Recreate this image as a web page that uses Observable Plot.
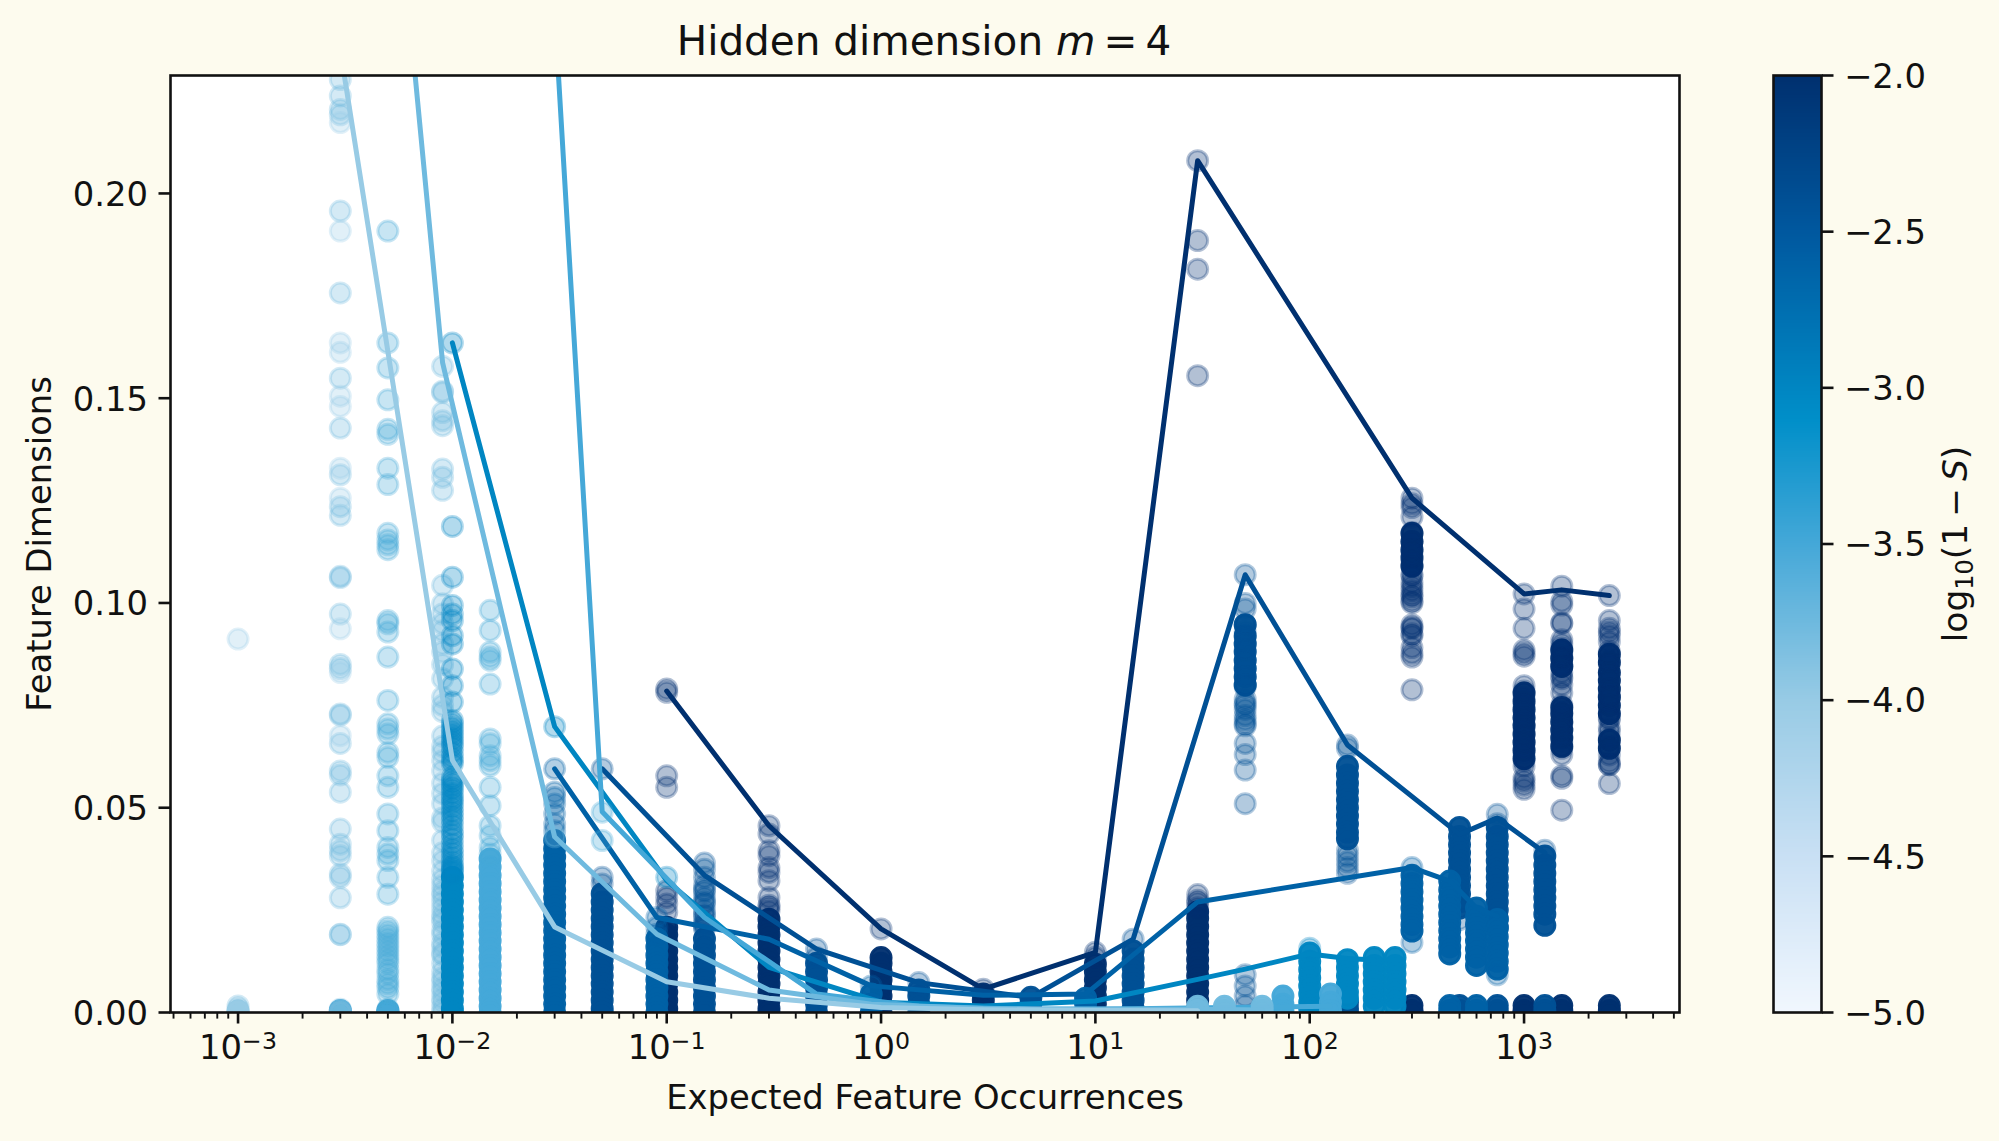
<!DOCTYPE html>
<html><head><meta charset="utf-8">
<script src="https://cdn.jsdelivr.net/npm/d3@7"></script>
<script src="https://cdn.jsdelivr.net/npm/@observablehq/plot@0.6"></script>
<style>
html,body{margin:0;padding:0;background:#fdfbee;width:1999px;height:1141px;overflow:hidden;font-family:"DejaVu Sans",sans-serif;color:#111}
#main,#bar{position:absolute;left:0;top:0}
#title{position:absolute;left:524px;width:800px;top:18px;text-align:center;font-size:40.5px;line-height:46px;white-space:nowrap}
#cblabel{position:absolute;left:1955px;top:544px;font-size:34.5px;white-space:nowrap;transform:translate(-50%,-50%) rotate(-90deg)}
#cblabel sub{font-size:24px;vertical-align:-6px;line-height:0}
svg text{font-family:"DejaVu Sans",sans-serif}
</style></head><body>
<div id="main"></div><div id="bar"></div>
<div id="title">Hidden dimension <i>m</i>&#8201;=&#8201;4</div>
<div id="cblabel">log<sub>10</sub>(1&#8201;−&#8201;<i>S</i>)</div>
<script>
// colour ramp
const rampStops = [-5,-4.5,-4,-3.5,-3.1,-2.5,-2];
const rampColors = ["#f1f7fe","#c9e0f4","#98cbe5","#45a8d8","#008fc9","#00589f","#00306f"];

// axis
const xDomain = [4.84e-4,5312];
const yDomain = [0,0.2288];
const xMajor = [1e-3,1e-2,1e-1,1,1e1,1e2,1e3];
const xMajorBase = ["10","10","10","10","10","10","10"];
const xMajorExp = ["−3","−2","−1","0","1","2","3"];
const xMinorDecades = [1e-4,1e-3,1e-2,1e-1,1,1e1,1e2,1e3];
const xMinorMults = [2,3,4,5,6,7,8,9];
const yTicks = [0,0.05,0.10,0.15,0.20];
const cbTicks = [-5,-4.5,-4,-3.5,-3,-2.5,-2];

// series: log10(1-S) values, darkest first
const seriesC = [-2,-2.4,-2.6,-3,-3.5,-3.75,-4,-4.05];

// lines
const lineX = [
 [0.1,0.3,1,3,10,30,300,1000,1500,2500],
 [0.05,0.15,0.5,1.5,5,15,50,150,500,750,1250],
 [0.03,0.09,0.3,0.9,3,9,30,300,450,600,750],
 [0.01,0.03,0.1,0.3,1,3,10,30,50,100,150,200],
 [0.015,0.05,0.15,0.5,1.5,5,15,50,125],
 [0.003,0.009,0.03,0.09,0.3,0.9,3,9,30,60],
 [0.003,0.01,0.03,0.1,0.3,1,3,10,30],
 []
];
const lineY = [
 [0.0785,0.0456,0.0204,0.0057,0.0147,0.208,0.1256,0.1022,0.1032,0.1018],
 [0.0595,0.0335,0.0155,0.0073,0.0037,0.0179,0.1069,0.0653,0.0435,0.0475,0.039],
 [0.0595,0.0232,0.0179,0.0065,0.0042,0.0045,0.027,0.0354,0.0321,0.0255,0.0235],
 [0.1635,0.0698,0.0322,0.011,0.0025,0.0016,0.0028,0.0081,0.0106,0.0143,0.0132,0.0128],
 [0.51,0.049,0.0232,0.0045,0.0015,0.0008,0.0009,0.0013,0.0015],
 [0.42,0.1587,0.0429,0.0191,0.0055,0.002,0.001,0.0008,0.0008,0.0006],
 [0.235,0.0616,0.0209,0.0075,0.0035,0.0012,0.0007,0.0005,0.0004],
 []
];

// the x = 0.009 dots sit behind the x = 0.01 column
const backX = 0.009;
const backC = -3.75;
const backY = [0.1578,0.1517,0.1514,0.1465,0.1445,0.1433,0.1327,0.1307,0.1275,0.1043,0.0998,0.0973,0.095,0.0932,0.09,0.088,0.085,0.0815,0.077,0.075,0.0735,0.0675,0.065,0.0635,0.0615,0.059,0.056,0.0535,0.051,0.0475,0.0465,0.042,0.039,0.037,0.0295,0.027,0.024,0.022,0.019,0.017,0.0145,0.014,0.01,0.0075,0.005,0.0025,0,0.0345,0.0325,0.031,0.0285,0.0255,0.023,0.02,0.016,0.012,0.0085,0.006,0.0035,0.001];

// scattered translucent dots: [series index, x, values]
const sparse = [
 [0,0.1,[0.079,0.0782,0.0578,0.055,0.0297,0.0281,0.0265,0.0245]],
 [0,0.3,[0.0456,0.0436,0.0395,0.0383,0.0354,0.0342,0.0322,0.0281,0.0257,0.0262,0.0248]],
 [0,1,[0.0204]],
 [0,3,[0.0057]],
 [0,10,[0.0147,0.0135]],
 [0,30,[0.208,0.1885,0.1815,0.1555,0.0288,0.0274,0.0268,0.0256]],
 [0,300,[0.1256,0.1242,0.1233,0.121,0.1172,0.115,0.113,0.112,0.11,0.1088,0.107,0.105,0.103,0.1015,0.1,0.0947,0.0938,0.0891,0.0877,0.0868,0.0788,0.1065,0.104,0.102,0.1005,0.092,0.094,0.0925]],
 [0,1000,[0.1022,0.0985,0.0938,0.0877,0.0798,0.0785,0.077,0.075,0.0735,0.072,0.0705,0.069,0.0675,0.066,0.0645,0.063,0.0615,0.0601,0.0573,0.0545,0.0885,0.087,0.0565,0.0555]],
 [0,1500,[0.1041,0.1004,0.0995,0.0952,0.095,0.09,0.088,0.0865,0.085,0.083,0.082,0.078,0.08,0.0751,0.0735,0.072,0.0705,0.069,0.0675,0.066,0.0645,0.063,0.0578,0.0572,0.0494,0.091,0.089,0.087,0.0845,0.0815]],
 [0,2500,[0.1018,0.0957,0.0938,0.0929,0.092,0.0905,0.0882,0.0865,0.085,0.083,0.0815,0.079,0.0751,0.0732,0.0686,0.067,0.065,0.0629,0.0559,0.077,0.0775,0.0715,0.0695,0.072,0.0605,0.0612,0.0605]],
 [1,0.05,[0.0595,0.033,0.0314]],
 [1,0.15,[0.0365,0.035,0.033,0.031,0.03,0.028,0.027,0.025,0.024,0.022,0.021,0.0295,0.0265,0.0235,0.0215,0.0205]],
 [1,0.5,[0.0155,0.0134]],
 [1,1.5,[0.0073]],
 [1,15,[0.0179]],
 [1,50,[0.1069,0.0999,0.0985,0.0947,0.093,0.0915,0.09,0.0885,0.086,0.084,0.082,0.08,0.0795,0.0765,0.075,0.0714,0.07,0.0657,0.063,0.0592,0.051,0.0092,0.0065,0.004,0.0017,0.0755,0.074,0.0725,0.0705]],
 [1,150,[0.0653,0.0645,0.0396,0.0382,0.0368,0.0354,0.034]],
 [1,500,[0.0227]],
 [1,750,[0.0484,0.0461]],
 [1,1250,[0.0396]],
 [2,0.03,[0.0595,0.0538,0.0525,0.0509,0.0485,0.046,0.0444]],
 [2,0.09,[0.0232,0.0208,0.0191]],
 [2,0.9,[0.0065]],
 [2,300,[0.0354,0.0171]],
 [2,750,[0.0092]],
 [3,0.01,[0.1635,0.1187,0.1063,0.0994,0.0973,0.0957,0.092,0.09,0.0839,0.0798,0.0758,0.0713,0.0696,0.068,0.0664,0.0648,0.0623,0.0607,0.0574,0.056,0.0545,0.0525,0.051,0.049,0.047,0.0445,0.0425,0.04,0.038,0.0705,0.0688,0.0672,0.0656,0.0635,0.0615,0.0567,0.0552,0.0535,0.0518,0.05,0.048,0.0458,0.0435,0.0412,0.039,0.037,0.036,0.0355,0.035,0.0345,0.034]],
 [3,0.03,[0.0698]],
 [3,0.1,[0.033]],
 [3,100,[0.0157]],
 [4,0.015,[0.0982,0.0933,0.088,0.0868,0.086,0.0802,0.0668,0.0656,0.0627,0.0615,0.0603,0.055,0.0505,0.0456,0.0432,0.0403,0.0387]],
 [4,0.05,[0.0489,0.042]],
 [4,0.005,[0.1908,0.1635,0.1574,0.1496,0.1424,0.1412,0.1329,0.1289,0.117,0.1154,0.1142,0.113,0.0957,0.0949,0.0929,0.0868,0.0762,0.0705,0.0692,0.068,0.0635,0.0623,0.0578,0.055,0.0485,0.0444,0.0403,0.0387,0.0371,0.033,0.0289,0.0208,0.0199,0.019,0.018,0.017,0.016,0.015,0.014,0.013,0.012,0.0105,0.0095,0.008,0.007,0.006,0.0045,0.0008,0.0004,0,0,0,0,0]],
 [5,0.03,[0.0429]],
 [5,0.001,[0.0016,0.0008,0.0004,0,0]],
 [5,0.003,[0.2278,0.2238,0.2205,0.2192,0.1957,0.1757,0.1549,0.1427,0.1313,0.1235,0.1214,0.1065,0.1062,0.0973,0.085,0.084,0.0729,0.0726,0.0657,0.059,0.058,0.0538,0.0448,0.0411,0.0395,0.0383,0.0338,0.033,0.028,0.0191,0.019,0.0008,0.0004,0,0,0,0]],
 [7,0.001,[0.0912]],
 [7,0.003,[0.2173,0.1908,0.1635,0.1612,0.1505,0.148,0.1329,0.1256,0.0937,0.083,0.0676]]
];

// columns so crowded that they read as solid: [series index, x, values]
const solid = [
 [0,0.1,[0.0208,0.019,0.017,0.015,0.013,0.011,0.009,0.007,0.005,0.003,0.001,0]],
 [0,0.3,[0.0228,0.021,0.019,0.017,0.015,0.013,0.011,0.009,0.007,0.005,0.003,0.001,0]],
 [0,1,[0.0134,0.012,0.01,0.008,0.006,0.004,0.002,0]],
 [0,3,[0.0045,0.003,0.0015,0]],
 [0,10,[0.0118,0.01,0.008,0.006,0.004,0.002,0]],
 [0,30,[0.0246,0.023,0.021,0.019,0.017,0.015,0.013,0.011,0.009,0.007,0.005,0.003,0.001,0]],
 [0,300,[0.0017,0.0005,0]],
 [0,1000,[0.0017,0.0005,0,0.078,0.076,0.074,0.072,0.07,0.068,0.066,0.064,0.062]],
 [0,1500,[0.0017,0.0005,0,0.0745,0.073,0.071,0.069,0.067,0.065,0.0885,0.0865,0.0845]],
 [0,2500,[0.0017,0.0005,0,0.0875,0.0855,0.083,0.081,0.079,0.077,0.075,0.073,0.0665,0.0645]],
 [0,300,[0.117,0.115,0.113,0.111,0.109]],
 [1,0.05,[0.029,0.027,0.025,0.023,0.021,0.019,0.017,0.015,0.013,0.011,0.009,0.007,0.005,0.003,0.001,0]],
 [1,0.15,[0.018,0.016,0.014,0.012,0.01,0.008,0.006,0.004,0.002,0]],
 [1,0.5,[0.012,0.01,0.008,0.006,0.004,0.002,0]],
 [1,1.5,[0.0055,0.004,0.002,0]],
 [1,5,[0.0037,0.002,0]],
 [1,15,[0.015,0.013,0.011,0.009,0.007,0.005,0.003,0.001,0]],
 [1,50,[0.0947,0.092,0.09,0.088,0.086,0.084,0.082,0.08]],
 [1,150,[0.0601,0.058,0.056,0.054,0.052,0.05,0.048,0.046,0.044,0.0424]],
 [1,500,[0.0452,0.043,0.041,0.039,0.037,0.035,0.033,0.031,0.029,0.027,0.0255,0.0017,0.0005]],
 [1,750,[0.0452,0.043,0.041,0.039,0.037,0.035,0.033,0.031,0.029,0.027,0.025,0.023,0.0209,0.0017,0.0005]],
 [1,1250,[0.0382,0.036,0.034,0.032,0.03,0.028,0.026,0.024,0.0213,0.0017,0.0005]],
 [2,0.03,[0.042,0.04,0.038,0.036,0.034,0.032,0.03,0.028,0.026,0.024,0.022,0.02,0.018,0.016,0.014,0.012,0.01,0.008,0.006,0.004,0.002,0]],
 [2,0.09,[0.018,0.016,0.014,0.012,0.01,0.008,0.006,0.004,0.002,0]],
 [2,0.9,[0.0045,0.002,0]],
 [2,9,[0.0035,0.002,0]],
 [2,300,[0.0335,0.0315,0.0295,0.0275,0.0255,0.0235,0.0215,0.0199]],
 [2,450,[0.0321,0.03,0.028,0.026,0.024,0.022,0.02,0.018,0.016,0.0143,0.0017,0.0005]],
 [2,600,[0.0255,0.0235,0.0215,0.0195,0.0175,0.0155,0.0135,0.0115,0.0017,0.0005]],
 [2,750,[0.0227,0.0205,0.0185,0.0165,0.0145,0.0125,0.0106]],
 [3,0.01,[0.033,0.031,0.029,0.027,0.025,0.023,0.021,0.019,0.017,0.015,0.013,0.011,0.009,0.007,0.005,0.003,0.001,0]],
 [3,100,[0.0145,0.0125,0.0105,0.0085,0.0065,0.0045,0.0025,0.001]],
 [3,150,[0.0129,0.011,0.009,0.007,0.005,0.0035]],
 [3,200,[0.0134,0.0115,0.0095,0.0075,0.0055,0.0035,0.0015]],
 [3,250,[0.0134,0.0115,0.0095,0.0075,0.0055,0.0035,0.0015]],
 [1,150,[0.0025,0.001,0]],
 [4,0.015,[0.0375,0.0355,0.0335,0.0315,0.0295,0.0275,0.0255,0.0235,0.0215,0.0195,0.0175,0.0155,0.0135,0.0115,0.0095,0.0075,0.0055,0.0035,0.0015,0]],
 [4,0.003,[0,0.0005]],
 [4,0.005,[0,0.0005]],
 [4,75,[0.004,0.002,0.0005]],
 [4,125,[0.0045,0.0025,0.0005]],
 [5,30,[0.0015,0.0005]],
 [5,40,[0.0015,0.0005]],
 [5,60,[0.0015,0.0005]],
 [6,0.001,[0.0002]]
];

const sparseRows = sparse.flatMap(([i,x,ys]) => ys.map(y => ({i,x,y,c:seriesC[i]})));
const solidRows = solid.flatMap(([i,x,ys]) => ys.map(y => ({i,x,y,c:seriesC[i]})));
const backRows = backY.map(y => ({x:backX,y,c:backC}));
const lineRows = seriesC.map((c,i) => lineX[i].map((x,k) => ({x,y:lineY[i][k],c})));
const colorScale = {type:"linear",domain:rampStops,range:rampColors};
const ink = "#111";
const dotR = 10;
const dotEdge = 3;
const dotStyle = {x:"x",y:"y",r:dotR,fill:"c",stroke:"c",strokeWidth:dotEdge,clip:true};

const seriesMarks = seriesC.flatMap((c,i) => [
  Plot.dot(solidRows.filter(d=>d.i===i),{...dotStyle,fillOpacity:0.96,strokeOpacity:0.96}),
  Plot.dot(sparseRows.filter(d=>d.i===i),{...dotStyle,fillOpacity:0.3,strokeOpacity:0.3}),
  Plot.line(lineRows[i],{x:"x",y:"y",stroke:"c",strokeWidth:5,clip:true})
]);

const xMinor = xMinorDecades.flatMap(d => xMinorMults.map(m => d*m)).filter(v => v>xDomain[0] && v<xDomain[1]);

const main = Plot.plot({
  width:1999,height:1141,
  marginLeft:170,marginRight:320,marginTop:75,marginBottom:129,
  style:{background:"transparent",color:ink,fontFamily:"DejaVu Sans",overflow:"visible"},
  x:{type:"log",domain:xDomain,axis:null},
  y:{domain:yDomain,axis:null},
  color:colorScale,
  marks:[
    Plot.frame({fill:"#fff",stroke:"none"}),
    Plot.dot(backRows,{...dotStyle,fillOpacity:0.3,strokeOpacity:0.3}),
    ...seriesMarks,
    Plot.frame({stroke:ink,strokeWidth:2.6}),
    Plot.axisX({ticks:xMinor,tickSize:6.6,strokeWidth:1.9,stroke:ink,tickFormat:()=>"",label:null}),
    Plot.axisX({ticks:xMajor,tickSize:11.5,tickPadding:11,strokeWidth:2.6,stroke:ink,fontSize:33.8,
      tickFormat:v=>{const k=xMajor.indexOf(v);return xMajorBase[k]+"^"+xMajorExp[k];},label:"Expected Feature Occurrences",labelAnchor:"center",labelArrow:"none",labelOffset:96}),
    Plot.axisY({ticks:yTicks,tickSize:11.5,tickPadding:11,strokeWidth:2.6,stroke:ink,fontSize:33.8,
      tickFormat:d3.format(".2f"),label:"Feature Dimensions",labelAnchor:"center",labelArrow:"none",labelOffset:144})
  ]
});
document.getElementById("main").append(main);
// typeset "10^-3" tick labels with a raised exponent
d3.select(main).selectAll("text").each(function(){
  const t=this.textContent;
  if(!t.includes("^")||this.children.length>1) return;
  const node=this.querySelector("tspan")||this;
  const [b,e]=node.textContent.split("^");
  node.textContent=b;
  const sup=document.createElementNS("http://www.w3.org/2000/svg","tspan");
  sup.setAttribute("dy","-0.42em");sup.setAttribute("font-size","0.7em");sup.textContent=e;
  node.appendChild(sup);
});

const bar = Plot.plot({
  width:1999,height:1141,
  marginLeft:1773,marginRight:178,marginTop:75,marginBottom:129,
  style:{background:"transparent",color:ink,fontFamily:"DejaVu Sans",overflow:"visible"},
  x:{domain:[0,1],axis:null},
  y:{domain:[-5,-2],axis:null},
  color:colorScale,
  marks:[
    Plot.raster({fill:(x,y)=>y,x1:0,x2:1,y1:-5,y2:-2,width:2,height:512,imageRendering:"auto"}),
    Plot.frame({stroke:ink,strokeWidth:2.6}),
    Plot.axisY({anchor:"right",ticks:cbTicks,tickSize:11.5,tickPadding:11,strokeWidth:2.6,stroke:ink,fontSize:33.8,
      tickFormat:v=>"−"+d3.format(".1f")(-v),label:null})
  ]
});
document.getElementById("bar").append(bar);
// nudge y tick labels onto the tick line
for (const svg of [main,bar]) {
  d3.select(svg).selectAll('g[aria-label="y-axis tick label"]').each(function(){
    const g=d3.select(this);
    g.attr("transform",((g.attr("transform")||"")+" translate(0,1.5)").trim());
  });
}
</script>
</body></html>
